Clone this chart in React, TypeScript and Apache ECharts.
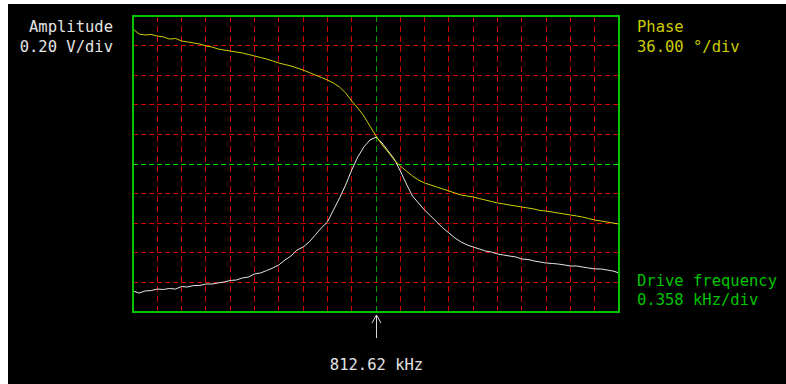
import React, { useEffect, useRef } from "react";
import * as echarts from "echarts";

// Drive frequency axis: centre and scale
const CENTER_KHZ = 812.62;
const KHZ_PER_DIV = 0.358;
const X_DIVS = 10; // divisions each side of centre

// Drive frequency samples (kHz)
const freqKHz = [
  809.04, 809.1295, 809.219, 809.3085, 809.398, 809.4875, 809.577, 809.6665, 809.756, 809.8455,
  809.935, 810.0245, 810.114, 810.2035, 810.293, 810.3825, 810.472, 810.5615, 810.651, 810.7405,
  810.83, 810.9195, 811.009, 811.0985, 811.188, 811.2775, 811.367, 811.4565, 811.546, 811.6355,
  811.725, 811.8145, 811.904, 811.9935, 812.083, 812.1725, 812.262, 812.3515, 812.441, 812.5305,
  812.62, 812.7095, 812.799, 812.8885, 812.978, 813.0675, 813.157, 813.2465, 813.336, 813.4255,
  813.515, 813.6045, 813.694, 813.7835, 813.873, 813.9625, 814.052, 814.1415, 814.231, 814.3205,
  814.41, 814.4995, 814.589, 814.6785, 814.768, 814.8575, 814.947, 815.0365, 815.126, 815.2155,
  815.305, 815.3945, 815.484, 815.5735, 815.663, 815.7525, 815.842, 815.9315, 816.021, 816.1105,
  816.2,
];

// Amplitude (V)
const amplitudeV = [
  0.142, 0.128, 0.142, 0.145, 0.155, 0.152, 0.159, 0.155, 0.172, 0.169,
  0.179, 0.179, 0.189, 0.189, 0.196, 0.203, 0.213, 0.216, 0.23, 0.236,
  0.257, 0.264, 0.28, 0.297, 0.318, 0.351, 0.378, 0.419, 0.439, 0.473,
  0.52, 0.568, 0.608, 0.689, 0.77, 0.858, 0.959, 1.047, 1.115, 1.162,
  1.182, 1.142, 1.088, 1.034, 0.953, 0.865, 0.784, 0.736, 0.689, 0.649,
  0.608, 0.568, 0.534, 0.5, 0.473, 0.453, 0.439, 0.426, 0.412, 0.405,
  0.392, 0.385, 0.378, 0.372, 0.358, 0.355, 0.345, 0.338, 0.331, 0.328,
  0.324, 0.318, 0.311, 0.311, 0.304, 0.297, 0.291, 0.291, 0.284, 0.277,
  0.264,
];

// Phase (degrees)
const phaseDeg = [
  164.2, 158.1, 156.9, 157.5, 155.7, 154.5, 152.0, 152.6, 149.6, 148.4,
  147.2, 145.9, 143.5, 142.3, 139.9, 138.6, 137.4, 136.2, 135.0, 133.2,
  131.4, 129.5, 127.7, 125.3, 122.8, 121.0, 119.2, 116.8, 114.3, 111.3,
  108.2, 105.2, 102.2, 98.5, 93.6, 86.4, 76.6, 68.1, 58.4, 46.2,
  34.1, 23.1, 14.6, 4.9, -2.4, -8.5, -14.6, -19.5, -23.1, -25.5,
  -28.0, -30.4, -32.8, -35.3, -37.7, -38.9, -40.1, -42.0, -43.8, -45.6,
  -47.4, -48.6, -49.9, -51.1, -52.3, -53.5, -54.7, -56.6, -57.2, -58.4,
  -59.6, -60.8, -62.0, -63.2, -64.5, -66.3, -68.1, -69.3, -70.5, -71.8,
  -73.0,
];

// Axis ranges
const AMP_MIN = 0;
const AMP_MAX = 2.0;
const AMP_PER_DIV = 0.2;
const AMP_DIVS = 10;
const PHASE_MIN = -180;
const PHASE_MAX = 180;
const PHASE_PER_DIV = 36;

const FONT = "'DejaVu Sans Mono', 'Liberation Mono', monospace";

export default function App() {
  const ref = useRef<HTMLDivElement>(null);

  useEffect(() => {
    if (!ref.current) return;
    const chart = echarts.init(ref.current, null, { renderer: "svg" });
    const toDiv = (f: number) => (f - CENTER_KHZ) / KHZ_PER_DIV;
    const ampData = freqKHz.map((f, i) => [toDiv(f), amplitudeV[i]]);
    const phaseData = freqKHz.map((f, i) => [toDiv(f), phaseDeg[i]]);

    const gx = 125, gy = 12, gw = 486, gh = 296;
    const hidden = {
      axisLine: { show: false },
      axisTick: { show: false },
      axisLabel: { show: false },
      splitLine: { show: false },
    };

    chart.setOption({
      animation: false,
      backgroundColor: "#000000",
      grid: { left: gx, top: gy, width: gw, height: gh, containLabel: false },
      xAxis: { type: "value", min: -X_DIVS, max: X_DIVS, interval: 1, ...hidden },
      yAxis: [
        { type: "value", min: AMP_MIN, max: AMP_MAX, interval: AMP_PER_DIV, ...hidden },
        { type: "value", min: PHASE_MIN, max: PHASE_MAX, interval: PHASE_PER_DIV, ...hidden },
      ],
      series: [
        {
          type: "line",
          name: "Amplitude",
          data: ampData,
          yAxisIndex: 0,
          symbol: "none",
          showSymbol: false,
          z: 5,
          lineStyle: { color: "#e4e4e4", width: 1 },
        },
        {
          type: "line",
          name: "Phase",
          data: phaseData,
          yAxisIndex: 1,
          symbol: "none",
          showSymbol: false,
          z: 6,
          lineStyle: { color: "#d0d000", width: 1 },
        },
      ],
    });

    // Graticule: positions from the library's scales, snapped to the pixel grid
    const snap = (p: number) => Math.floor(p) + 0.5;
    const top = chart.convertToPixel({ yAxisIndex: 0 }, AMP_MAX);
    const bottom = chart.convertToPixel({ yAxisIndex: 0 }, AMP_MIN);
    const left = chart.convertToPixel({ xAxisIndex: 0 }, -X_DIVS);
    const right = chart.convertToPixel({ xAxisIndex: 0 }, X_DIVS);
    const gridLines: any[] = [];
    for (let k = -X_DIVS + 1; k < X_DIVS; k++) {
      const x = snap(chart.convertToPixel({ xAxisIndex: 0 }, k));
      const centre = k === 0;
      gridLines.push({
        type: "line",
        z: centre ? 2 : 1,
        shape: { x1: x, y1: top, x2: x, y2: bottom },
        style: { stroke: centre ? "#00a000" : "#d00000", lineWidth: 1, lineDash: [6, 4] },
      });
    }
    for (let j = 1; j < AMP_DIVS; j++) {
      const v = AMP_MIN + j * AMP_PER_DIV;
      const y = snap(chart.convertToPixel({ yAxisIndex: 0 }, v));
      const centre = j === AMP_DIVS / 2;
      gridLines.push({
        type: "line",
        z: centre ? 2 : 1,
        shape: { x1: left, y1: y, x2: right, y2: y },
        style: { stroke: centre ? "#00dd00" : "#d00000", lineWidth: 1, lineDash: [5, 3] },
      });
    }

    const cx = snap(chart.convertToPixel({ xAxisIndex: 0 }, 0));
    const txt = (text: string, x: number, y: number, fill: string, align: string) => ({
      type: "text", x, y, z: 100,
      style: { text, fill, fontSize: 15.5, fontFamily: FONT, align, verticalAlign: "middle" },
    });

    chart.setOption({
      graphic: [
        ...gridLines,
        {
          type: "rect",
          z: 100,
          shape: { x: gx, y: gy, width: gw, height: gh },
          style: { fill: "none", stroke: "#00c400", lineWidth: 2 },
        },
        txt("Amplitude", 105, 23, "#e4e4e4", "right"),
        txt("0.20 V/div", 105, 43, "#e4e4e4", "right"),
        txt("Phase", 629, 23, "#cccc00", "left"),
        txt("36.00 °/div", 629, 43, "#cccc00", "left"),
        txt("Drive frequency", 629, 277, "#00c400", "left"),
        txt("0.358 kHz/div", 629, 296, "#00c400", "left"),
        txt("812.62 kHz", cx, 361, "#e4e4e4", "center"),
        {
          type: "line", z: 100,
          shape: { x1: cx, y1: 311, x2: cx, y2: 334 },
          style: { stroke: "#d8d8d8", lineWidth: 1 },
        },
        {
          type: "polyline", z: 100,
          shape: { points: [[cx - 4.5, 319], [cx, 311], [cx + 4.5, 319]] },
          style: { stroke: "#d8d8d8", lineWidth: 1, fill: "none" },
        },
      ],
    });

    return () => chart.dispose();
  }, []);

  return (
    <div
      ref={ref}
      style={{ position: "fixed", left: 8, top: 4, width: 778, height: 380, background: "#000" }}
    />
  );
}
